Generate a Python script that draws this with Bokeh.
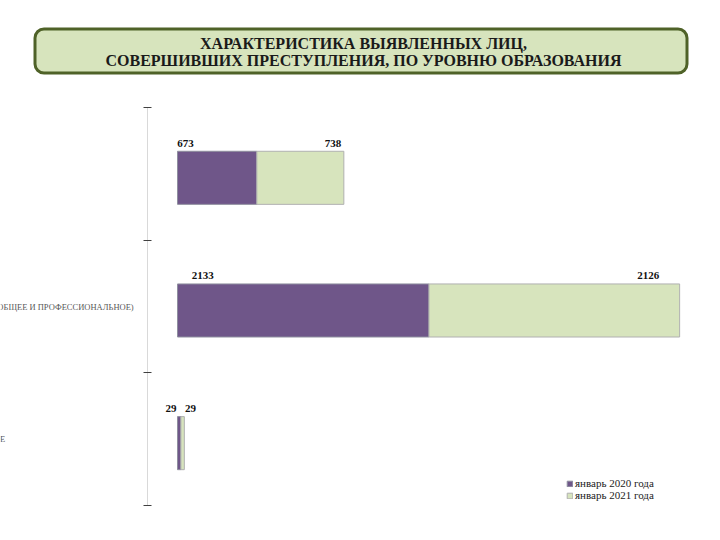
from bokeh.plotting import figure
from bokeh.models import (Range1d, FixedTicker, Legend, LegendItem,
                          ColumnDataSource, LinearAxis)
from bokeh.core.properties import value
from bokeh.embed import file_html
from bokeh.resources import INLINE

# ---------------- data ----------------
title_lines = ["ХАРАКТЕРИСТИКА ВЫЯВЛЕННЫХ ЛИЦ,",
               "СОВЕРШИВШИХ ПРЕСТУПЛЕНИЯ, ПО УРОВНЮ ОБРАЗОВАНИЯ"]
categories = ["ВЫСШЕЕ", "СРЕДНЕЕ (ОБЩЕЕ И ПРОФЕССИОНАЛЬНОЕ)", "НАЧАЛЬНОЕ"]
series_names = ["январь 2020 года", "январь 2021 года"]
v2020 = [673, 2133, 29]
v2021 = [738, 2126, 29]

PURPLE = "#6f5689"
GREEN = "#d7e4bd"
BORDER = "#4f6228"
SERIF = "Liberation Serif"

W, H = 704, 524
X0 = 177                 # canvas px of value 0
AX = 147                 # canvas px of category axis line
FT, FB = 107, 505        # canvas px of category band top / bottom
ncat = len(categories)

px_per_unit = 0.1179
py_per_unit = (FB - FT) / ncat
x_start = -X0 / px_per_unit
x_end = x_start + W / px_per_unit
y_top = -FT / py_per_unit
y_bottom = y_top + H / py_per_unit


def xd(px):  # canvas px -> data x
    return x_start + px / px_per_unit


def yd(py):  # canvas px -> data y (0 at top category boundary)
    return y_top + py / py_per_unit


p = figure(width=W, height=H, x_range=Range1d(x_start, x_end),
           y_range=Range1d(y_bottom, y_top),
           x_axis_location=None, y_axis_location=None, title=None,
           toolbar_location=None, output_backend="svg",
           min_border=0, min_border_left=0, min_border_right=0,
           min_border_top=0, min_border_bottom=0)
p.outline_line_color = None
p.grid.visible = False

# category axis (ticks at category boundaries, labels drawn separately)
ticks = list(range(ncat + 1))
yax = LinearAxis(fixed_location=xd(AX), ticker=FixedTicker(ticks=ticks),
                 bounds=(0, ncat))
yax.major_label_overrides = {t: "" for t in ticks}
yax.major_label_standoff = 0
yax.axis_line_color = "#d9d9d9"
yax.major_tick_line_color = "#404040"
yax.major_tick_out = 4
yax.major_tick_in = 4
yax.minor_tick_line_color = None
p.add_layout(yax, "left")

# ---------------- title box ----------------
p.quad(left=[xd(34.5)], right=[xd(686.5)], top=[yd(28.5)], bottom=[yd(72.5)],
       fill_color=GREEN, line_color=BORDER, line_width=3, border_radius=9)
p.text(x=[xd(363)] * 2, y=[yd(43), yd(60)], text=title_lines,
       text_align="center", text_baseline="alphabetic",
       text_font=value(SERIF), text_font_style="bold",
       text_font_size="16px", text_color="#1a1a1a")

# ---------------- bars ----------------
bar_h = 0.4
ys = [i + 0.53 for i in range(ncat)]
totals = [a + b for a, b in zip(v2020, v2021)]

r1 = p.hbar(y=ys, left=0, right=v2020, height=bar_h, fill_color=PURPLE,
            line_color="#8f8f9f", line_width=1)
r2 = p.hbar(y=ys, left=v2020, right=totals, height=bar_h, fill_color=GREEN,
            line_color="#b0b0b0", line_width=1)

# value labels
lx, ly, lt, la = [], [], [], []
for y, a, b, t in zip(ys, v2020, v2021, totals):
    top = y - bar_h / 2
    if t * px_per_unit > 40:
        lx += [0.1 * a, a + 0.875 * b]
        la += ["center", "center"]
    else:
        lx += [-8, t + 5]
        la += ["right", "left"]
    ly += [top, top]
    lt += [str(a), str(b)]
src = ColumnDataSource(dict(x=lx, y=ly, text=lt, align=la))
p.text(x="x", y="y", text="text", source=src, text_align="align",
       text_baseline="alphabetic", y_offset=-8,
       text_font=value(SERIF), text_font_style="bold",
       text_font_size="11px", text_color="#111111")

# category labels (partly beyond the left edge, as in the original)
p.text(x=[xd(-46)] * ncat, y=[i + 0.5 for i in range(ncat)], text=categories,
       text_align="left", text_baseline="middle",
       text_font=value(SERIF), text_font_size="8.5px", text_color="#595959")

legend = Legend(items=[LegendItem(label=series_names[0], renderers=[r1]),
                       LegendItem(label=series_names[1], renderers=[r2])],
                location=(566, H - 501), orientation="vertical",
                padding=0, margin=0, spacing=0, label_height=10,
                glyph_height=7, glyph_width=7, label_standoff=2,
                label_text_font=SERIF, label_text_font_size="11px",
                label_text_line_height=0.8,
                label_text_color="#222222",
                background_fill_alpha=0, border_line_color=None)
p.add_layout(legend, "center")

open("out.html", "w").write(file_html(p, INLINE))
